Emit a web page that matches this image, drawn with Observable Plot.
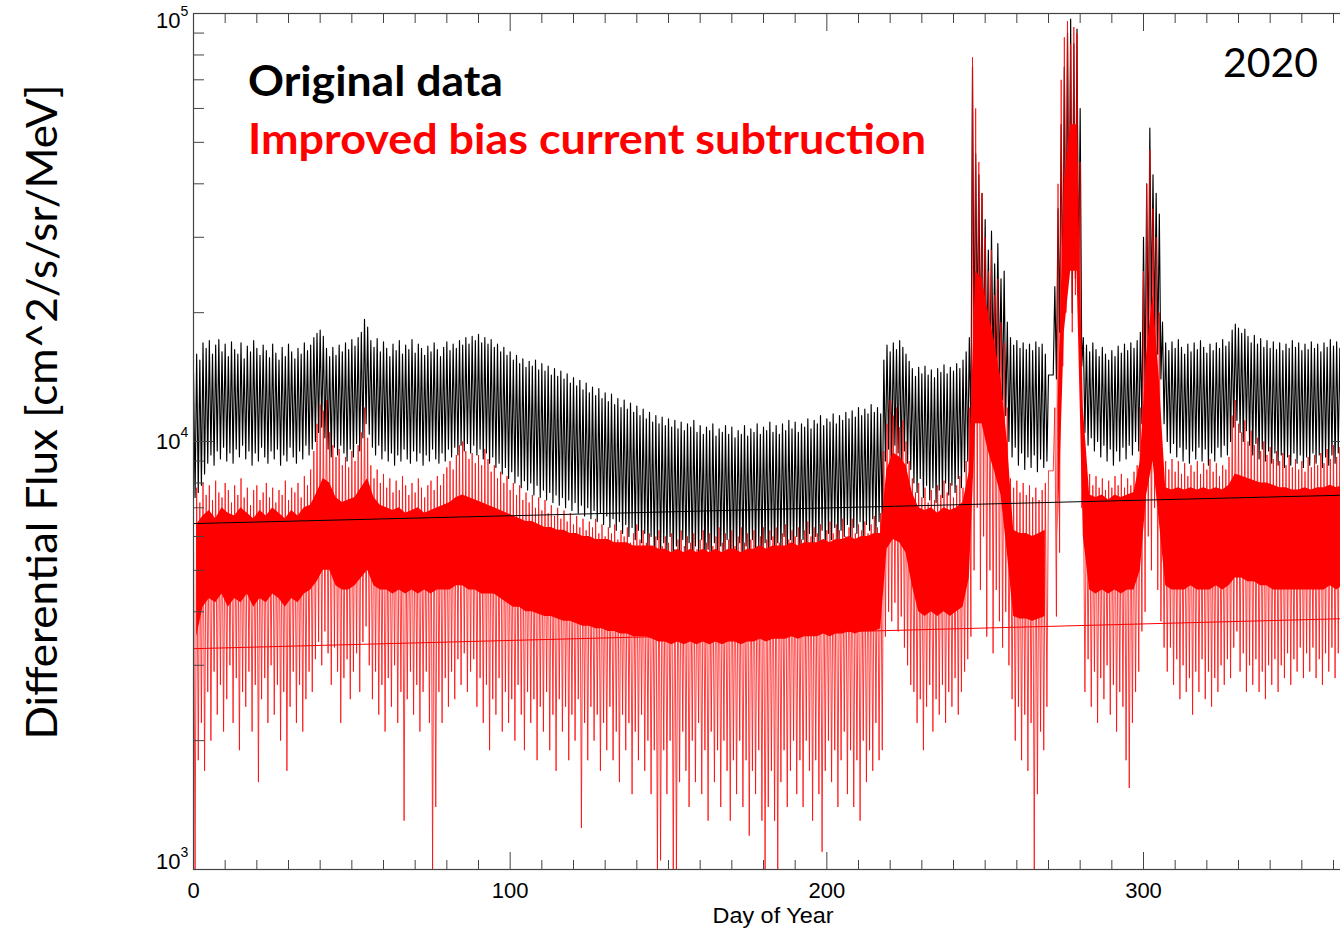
<!DOCTYPE html>
<html><head><meta charset="utf-8">
<script src="https://cdn.jsdelivr.net/npm/d3@7"></script>
<script src="https://cdn.jsdelivr.net/npm/@observablehq/plot@0.6"></script>
<style>
html,body{margin:0;padding:0;background:#fff;overflow:hidden;width:1340px;height:931px}
#chart{position:absolute;left:0;top:0;width:1360px}
#chart svg{display:block;max-width:none !important;width:1360px;height:931px}
</style></head><body><div id="chart"></div>
<script>
// Original data: daily peak (high) and trough (low) flux, day 0..365
const blackHigh = [
14500,16000,15500,17000,16500,17200,16000,16800,17300,16200,
16900,15800,17100,16400,16000,17000,15600,16700,16200,17200,
16500,15900,16800,16300,15700,16900,16100,15500,16600,15800,
16900,16200,15600,16500,16000,17000,16300,16800,17500,17900,
18200,17600,16500,15800,16600,15900,16800,16200,17000,16400,
17300,16700,17500,18000,19300,18500,17200,16600,17400,16200,
17100,16500,15800,16900,16300,17200,16000,16800,16400,17300,
16100,16900,16500,15900,16700,16200,17000,16400,15800,16600,
17100,16300,16900,16500,17200,16800,17500,16900,17600,17200,
17800,17000,17500,16900,17300,16600,16900,16200,16600,15900,
16200,15500,15900,15200,15600,14900,15400,15000,15500,14700,
15200,14600,15000,14300,14800,14200,14600,14000,14400,13700,
14100,13500,13900,13200,13700,13000,13400,12800,13300,12600,
13000,12400,12900,12200,12600,12000,12500,11900,12300,11700,
12100,11500,11900,11300,11700,11100,11500,11000,11400,10900,
11300,10800,11200,10700,11100,10600,11000,10800,11200,10500,
10900,10400,10800,10600,11000,10300,10700,10500,10900,10400,
10800,10200,10600,10400,10900,10300,10700,10500,11000,10400,
10800,10600,11100,10500,10900,10400,11000,10600,11200,10700,
11100,10500,11000,10800,11300,10700,11200,11000,11500,10900,
11300,11100,11600,11000,11500,11200,11700,11300,11800,11400,
12000,11500,11900,11600,12200,11700,12000,11600,15500,16800,
16200,17000,16400,17200,16600,16000,15400,14800,14200,14900,
14400,15000,14300,14700,14100,14800,14500,15100,14400,14900,
14600,15200,14800,15500,16200,17500,75000,47000,42000,38000,
33000,28000,31000,26000,29000,24000,25000,19000,17500,16800,
17200,16500,17000,16400,16900,16300,17100,16600,16900,16000,
14300,14300,23000,35000,55000,75000,90000,97000,85000,92000,
60000,17500,16800,16200,17000,16400,15800,16600,16000,15500,
16300,15800,16700,16100,16900,16300,17000,16500,17200,18000,
30000,40000,54000,42000,38000,34000,19000,17000,16300,17100,
16500,17300,16600,16000,16900,16200,17000,16400,17200,16600,
16100,16900,16300,17000,16500,17300,16700,17100,18200,18800,
18400,17900,18300,17600,17000,17700,16900,17400,16600,17200,
16500,17100,16400,17000,16300,16900,16500,17200,16600,17000,
16300,16900,16400,17100,16500,16900,16200,17000,16600,17300,
16700,17100,16500,17000,16400,16800];
const blackLow = [
7400,7600,7900,8400,8900,9300,8800,9500,9100,9700,
9000,9400,8900,9600,9200,9800,9100,9500,8800,9400,
9000,9700,9200,8900,9500,9100,9600,8800,9300,9000,
9700,9200,8900,9500,9100,9800,9300,9600,10000,10500,
10800,10200,9600,9200,9700,9300,9800,9400,9000,9600,
9200,9900,9500,10200,11000,10400,9700,9300,9800,9100,
9500,9000,9400,8800,9300,9000,9600,9100,8900,9500,
9000,9400,8800,9300,9000,9600,9100,8900,9400,9000,
9600,9200,9700,9300,9800,9500,9900,9400,9800,9300,
9600,9100,9400,8900,9200,8700,8900,8400,8700,8200,
8500,8000,8300,7800,8100,7700,8000,7500,7900,7400,
7700,7300,7600,7200,7500,7100,7400,7000,7300,6900,
7200,6800,7100,6700,7000,6600,6900,6500,6800,6400,
6700,6300,6600,6200,6500,6100,6400,6000,6300,5900,
6200,5800,6100,5600,6000,5500,5900,5400,5800,5500,
6000,5300,5700,5500,5900,5400,5800,5300,5700,5500,
5900,5200,5600,5400,5800,5300,5700,5500,5900,5200,
5600,5400,5800,5300,5700,5500,5900,5300,5700,5400,
5800,5500,5900,5400,5800,5600,6000,5500,5900,5600,
6000,5500,5900,5700,6100,5600,6000,5800,6200,5700,
6100,5900,6300,5800,6200,6000,6400,5900,6300,6100,
6500,6000,6400,6200,6600,6100,6500,6300,9000,9600,
9200,9800,9400,9000,9500,8900,8600,8000,7600,8200,
7400,7900,7300,7800,7200,7700,7400,8000,7500,7900,
7600,8200,7800,8500,9000,10500,16000,18000,16000,15000,
14500,14000,15000,13500,14000,12500,11500,10000,9200,9700,
8800,9400,8600,9200,8700,9300,8500,9100,8700,9000,
14300,14300,14000,18000,20000,22000,25000,20000,24000,22000,
15000,10500,9800,10200,9500,10000,9200,9800,9000,9600,
8800,9500,9000,9700,9100,9800,9300,10000,9500,11000,
13000,16000,20000,18000,16000,14000,11000,10000,9400,9900,
9200,9700,9000,9600,8900,9500,9100,9700,9000,9600,
8800,9400,9000,9700,9200,9800,9300,10000,10800,11200,
10500,10000,10600,9800,9300,9900,9100,9600,9000,9500,
8900,9400,8800,9300,8700,9200,8800,9400,8900,9300,
8700,9200,8800,9400,8900,9300,8700,9200,8800,9300,
8900,9400,8800,9200,8700,9100];
// Improved bias current subtraction: daily extreme high / low flux
const redHigh = [
6000,7800,7200,8000,7500,7900,7300,8100,7600,7400,
8000,7700,7200,7900,7500,8200,7400,7800,7100,7700,
7900,7300,7600,8000,7400,7800,7200,7700,7500,8100,
7300,7800,7600,8000,7400,8300,7900,8600,9500,11000,
12200,11800,12500,10500,9800,9200,9600,8800,9200,8700,
9500,9000,9800,10500,12000,10200,8800,8200,8600,8000,
8400,7800,8200,7600,8100,7700,8300,7900,7500,8000,
7600,8200,7800,7400,7900,8100,7700,8300,7900,8400,
8700,9000,8600,9300,9800,10000,9500,9100,9400,8900,
9300,8800,9600,9100,8500,8800,8200,8500,8000,8300,
7700,8000,7500,7900,7300,7600,7200,7500,7000,7400,
6900,7300,6800,7100,6700,7000,6600,6900,6500,6800,
6400,6700,6300,6600,6200,6500,6300,6600,6100,6400,
6000,6300,6100,6400,5900,6200,6000,6300,5800,6100,
6400,5900,6200,5800,6100,5700,6000,6200,5700,6000,
5800,6100,5600,5900,6200,5700,6000,5800,6100,5600,
5900,6200,5800,6100,5700,6000,6300,5800,6100,5900,
6200,5700,6000,6300,5800,6100,5900,6200,5700,6000,
6300,5900,6200,6000,6300,5800,6100,6400,5900,6200,
6000,6300,5900,6200,6500,6000,6300,6100,6400,5900,
6200,6500,6100,6400,6200,6600,6000,6300,6600,6100,
6400,6200,6500,6100,6400,6700,6300,6800,9500,11000,
12500,11500,12000,10800,11200,10000,9000,8200,7600,8000,
7400,7800,7200,7700,7300,7900,7500,8100,7600,8000,
7400,7900,8300,7800,9000,12000,79000,60000,45000,38000,
30000,25000,28000,22000,24000,19000,17000,12000,8200,7800,
8100,7600,8000,7500,7900,7400,7800,7300,7700,8000,
8540,8540,12000,40000,70000,88000,96000,85000,93000,90000,
45000,8600,8100,8400,7900,8300,7800,8200,7700,8100,
7800,8300,7900,8400,7800,8200,7900,8500,8800,12000,
25000,40000,48000,35000,30000,20000,9500,9000,8600,9100,
8500,9000,8400,8900,8300,8800,8500,9000,8400,8900,
8600,9100,8500,8900,8300,8800,8600,9200,11500,12500,
11000,10500,11200,10000,10600,9800,10200,9500,10000,9300,
9700,9100,9500,9000,9400,8800,9300,8700,9100,8600,
9000,8500,9200,8700,9300,8800,9400,8900,9600,9100,
9800,9200,9700,9300,9900,9400];
const redLow = [
1000,1800,2200,1700,2600,2000,2900,2300,2700,2100,
2500,3000,2200,2800,1900,2600,2400,2900,2100,2700,
1600,2500,2800,2200,3000,2300,2700,2000,2600,1700,
2400,2900,2200,2700,2100,2500,2900,2600,3100,3400,
3000,3600,3200,2700,3300,2900,2200,2800,3100,2500,
2900,3200,2600,3400,3700,3000,2500,2900,2300,2700,
2100,2800,2400,3000,2200,2600,1300,2500,2900,2300,
2700,2100,2600,2900,2200,1000,1400,2600,2200,2800,
2400,2900,2500,3100,2700,3200,2600,2900,3100,2400,
2800,2200,2700,1900,2500,2300,2800,2100,2600,2200,
2500,2000,2700,2300,1900,2600,2200,2500,1800,2400,
2100,2600,1900,2300,1700,2500,2100,2400,1800,2300,
2000,2500,1250,2200,1800,2400,2000,2300,1700,2200,
1900,2400,1800,2100,1600,2300,1900,2200,1500,2100,
1800,2300,1700,2000,1500,1900,1000,1050,1900,1500,
2000,1000,1000,1600,2100,1700,1400,2000,1600,2200,
1500,1900,1300,2100,1600,1900,1400,2000,1700,1300,
1800,1500,2000,1400,1800,1200,1700,1500,1900,1300,
1000,1400,1700,1300,1000,1600,1900,1400,1700,2000,
1500,1800,1400,2000,1700,1300,1800,1500,1100,1700,
2000,1600,1900,1400,1800,2100,1500,1900,1400,1800,
1300,2000,1600,1900,1700,2200,1800,1900,3500,4000,
3800,4200,3600,3900,3300,3000,2700,2600,2200,2500,
1900,2400,2700,2100,2500,2300,2700,2200,2600,2400,
2800,2300,2600,2900,3100,3500,5000,7000,4500,6000,
3500,5000,3200,4500,3800,3300,4000,3000,2500,2000,
2400,1800,2300,1700,2200,1000,1500,2100,1900,2400,
8540,8540,3900,5500,15000,20000,25000,18000,22000,20000,
7000,2600,3100,2400,2900,2200,2800,2500,3000,2300,
2700,2100,2600,2400,1800,1550,2200,2600,2900,3600,
4000,6000,5000,7000,4500,3800,3300,2900,3300,2700,
3100,2500,3000,2600,2800,2300,2900,2600,3100,2500,
2900,2400,2800,2600,3000,2700,3100,2800,3300,3600,
2900,3200,2600,3000,2700,3100,2600,2900,2500,3000,
2700,3100,2600,3000,2800,3200,2700,3100,2900,3300,
2800,3200,2900,3300,2800,3100,2700,3200,2900,3300,
2800,3200,3000,3400,2900,3300];
// Dense core of the red series, per 2-day bin (null = data gap)
const redCoreHigh = [
6400,6700,6900,6600,7000,6800,6700,7000,6800,6600,
6900,6700,7000,6800,6600,6900,6700,7000,7100,7600,
8200,8000,7400,7200,7300,7400,7800,8200,7400,7100,
7000,6900,7000,6800,6900,7000,6800,6900,7000,7100,
7200,7400,7500,7400,7300,7200,7100,7000,6900,6800,
6700,6600,6500,6500,6400,6300,6300,6200,6200,6100,
6100,6000,6000,5900,5900,5900,5800,5800,5800,5700,
5700,5700,5700,5600,5600,5500,5600,5500,5600,5500,
5600,5500,5600,5500,5600,5600,5500,5600,5600,5700,
5600,5700,5700,5700,5800,5700,5800,5800,5800,5900,
5800,5900,5900,6000,5900,6000,6000,6100,6100,8600,
9400,9200,8800,7600,7000,6900,7000,6800,7000,6900,
7000,7200,8500,25000,24000,20000,17000,14000,10000,6200,
6100,6100,6000,6100,6200,null,12000,40000,55000,55000,
12000,7500,7400,7500,7300,7500,7400,7500,7600,9000,
16000,22000,14000,7800,7700,7800,7700,7800,7700,7800,
7700,7800,7700,7900,8400,8300,8200,8100,8000,8000,
7900,7800,7800,7700,7700,7800,7700,7800,7800,7900,
7800,7900,7900];
const redCoreLow = [
3500,4100,4300,4200,4400,4100,4300,4200,4400,4100,
4300,4200,4400,4300,4100,4300,4200,4400,4500,4700,
5000,5000,4600,4500,4500,4600,4800,5000,4600,4500,
4500,4400,4500,4400,4500,4400,4500,4400,4500,4500,
4500,4600,4600,4500,4500,4400,4400,4400,4300,4200,
4100,4100,4000,4000,3950,3900,3900,3850,3800,3800,
3750,3700,3700,3650,3650,3600,3600,3550,3550,3500,
3500,3500,3450,3400,3400,3350,3400,3350,3400,3350,
3400,3350,3400,3350,3400,3400,3350,3400,3400,3450,
3400,3450,3450,3450,3500,3450,3500,3500,3500,3550,
3500,3550,3550,3600,3550,3600,3600,3600,3650,5600,
5900,5800,5500,4600,4000,3900,4000,3900,4000,3900,
4000,4100,4800,11000,11000,9500,8500,7500,5500,3900,
3850,3850,3800,3850,3900,null,6000,18000,25000,25000,
6000,4500,4400,4500,4400,4500,4400,4500,4500,5000,
7500,9000,6500,4600,4500,4500,4500,4600,4500,4500,
4500,4600,4500,4600,4800,4800,4700,4700,4600,4600,
4500,4500,4500,4500,4500,4500,4500,4500,4500,4600,
4500,4600,4600];
// Straight trend lines (end points)
const fitDays = [0, 366];
const blackFitFlux = [6430, 7500];
const redFitFlux = [3280, 3860];
// Axes
const xTickLabels = [0, 100, 200, 300];
const xMinorTicks = [10,20,30,40,50,60,70,80,90,110,120,130,140,150,160,170,180,190,210,220,230,240,250,260,270,280,290,310,320,330,340,350,360];
const yMajorTicks = [1000, 10000, 100000];
const yMinorTicks = [2000,3000,4000,5000,6000,7000,8000,9000,20000,30000,40000,50000,60000,70000,80000,90000];
const xTitle = "Day of Year";
const yTitle = "Differential Flux [cm^2/s/sr/MeV]";
const legendBlack = "Original data";
const legendRed = "Improved bias current subtruction";
const yearLabel = "2020";

// build tables
const blackSeries = blackHigh.flatMap((h, d) => [{day: d, flux: h}, {day: d + 0.5, flux: blackLow[d]}]);
const redSeries = redHigh.flatMap((h, d) => [{day: d, flux: h}, {day: d + 0.5, flux: redLow[d]}]);
const redCore = redCoreHigh.map((h, b) => ({day: 2 * b + 1, hi: h, lo: redCoreLow[b]}));
const blackFit = fitDays.map((d, i) => ({day: d, flux: blackFitFlux[i]}));
const redFit = fitDays.map((d, i) => ({day: d, flux: redFitFlux[i]}));

const sans = "'Liberation Sans', Arial, Helvetica, sans-serif";
const calib = "Lato, 'Open Sans', sans-serif";
const axisColor = "#444";

const yLabelMarks = yMajorTicks.flatMap(v => {
  const off = v === 100000 ? 7 : v === 1000 ? -8 : 0;
  return [
    Plot.text([v], {y: d => d, text: () => "10", frameAnchor: "left", textAnchor: "end", dx: -13, dy: off, fontSize: 22, fontFamily: sans, fill: "#000"}),
    Plot.text([v], {y: d => d, text: d => String(Math.round(Math.log10(d))), frameAnchor: "left", textAnchor: "start", dx: -13, dy: off - 9, fontSize: 14, fontFamily: sans, fill: "#000"})
  ];
});

const svg = Plot.plot({
  width: 1360,
  height: 931,
  marginLeft: 193,
  marginRight: 8,
  marginTop: 13,
  marginBottom: 62,
  style: {background: "#fff", maxWidth: "none"},
  x: {domain: [0, 366], axis: null},
  y: {type: "log", domain: [1000, 100000], axis: null},
  marks: [
    Plot.line(blackSeries, {x: "day", y: "flux", stroke: "#000", strokeWidth: 1.15, clip: true}),
    Plot.areaY(redCore, {x: "day", y1: "lo", y2: "hi", fill: "#ff0000", clip: true}),
    Plot.line(redSeries, {x: "day", y: "flux", stroke: "#ff0000", strokeWidth: 0.85, strokeOpacity: 0.9, clip: true}),
    Plot.line(blackFit, {x: "day", y: "flux", stroke: "#000", strokeWidth: 1, clip: true}),
    Plot.line(redFit, {x: "day", y: "flux", stroke: "#ff0000", strokeWidth: 1, clip: true}),
    Plot.frame({stroke: axisColor, strokeWidth: 1.2}),
    // inward ticks, bottom & top
    Plot.axisX(xMinorTicks, {anchor: "bottom", tickSize: 9, dy: -9, fill: "none", stroke: axisColor}),
    Plot.axisX(xTickLabels, {anchor: "bottom", tickSize: 17, dy: -17, fill: "none", stroke: axisColor}),
    Plot.axisX(xMinorTicks, {anchor: "top", tickSize: 9, dy: 9, fill: "none", stroke: axisColor}),
    Plot.axisX(xTickLabels, {anchor: "top", tickSize: 17, dy: 17, fill: "none", stroke: axisColor}),
    // inward ticks, left & right
    Plot.axisY(yMinorTicks, {anchor: "left", tickSize: 11, dx: 11, fill: "none", stroke: axisColor}),
    Plot.axisY(yMajorTicks, {anchor: "left", tickSize: 21, dx: 21, fill: "none", stroke: axisColor}),
    Plot.axisY(yMinorTicks, {anchor: "right", tickSize: 11, dx: -11, fill: "none", stroke: axisColor}),
    Plot.axisY(yMajorTicks, {anchor: "right", tickSize: 21, dx: -21, fill: "none", stroke: axisColor}),
    // tick labels
    Plot.text(xTickLabels, {x: d => d, text: d => String(d), frameAnchor: "bottom", dy: 28, fontSize: 22, fontFamily: sans, fill: "#000"}),
    ...yLabelMarks
  ]
});
svg.style.maxWidth = "none";
svg.setAttribute("width", 1360);
svg.setAttribute("height", 931);

const s = d3.select(svg);
s.append("text").attr("x", 773).attr("y", 923).attr("text-anchor", "middle")
  .attr("font-family", sans).attr("font-size", 22).attr("fill", "#000")
  .attr("textLength", 121).attr("lengthAdjust", "spacingAndGlyphs").text(xTitle);
s.append("text").attr("transform", "translate(57,412) rotate(-90)").attr("text-anchor", "middle")
  .attr("font-family", calib).attr("font-size", 42).attr("fill", "#000")
  .attr("textLength", 655).attr("lengthAdjust", "spacingAndGlyphs").text(yTitle);
s.append("text").attr("x", 248).attr("y", 96).attr("text-anchor", "start")
  .attr("font-family", calib).attr("font-weight", "bold").attr("font-size", 42).attr("fill", "#000")
  .attr("textLength", 255).attr("lengthAdjust", "spacingAndGlyphs").text(legendBlack);
s.append("text").attr("x", 248).attr("y", 154).attr("text-anchor", "start")
  .attr("font-family", calib).attr("font-weight", "bold").attr("font-size", 42).attr("fill", "#ff0000")
  .attr("textLength", 678).attr("lengthAdjust", "spacingAndGlyphs").text(legendRed);
s.append("text").attr("x", 1223).attr("y", 77).attr("text-anchor", "start")
  .attr("font-family", calib).attr("font-size", 41).attr("fill", "#000")
  .attr("textLength", 95).attr("lengthAdjust", "spacingAndGlyphs").text(yearLabel);

document.getElementById("chart").appendChild(svg);
</script>
</body></html>
